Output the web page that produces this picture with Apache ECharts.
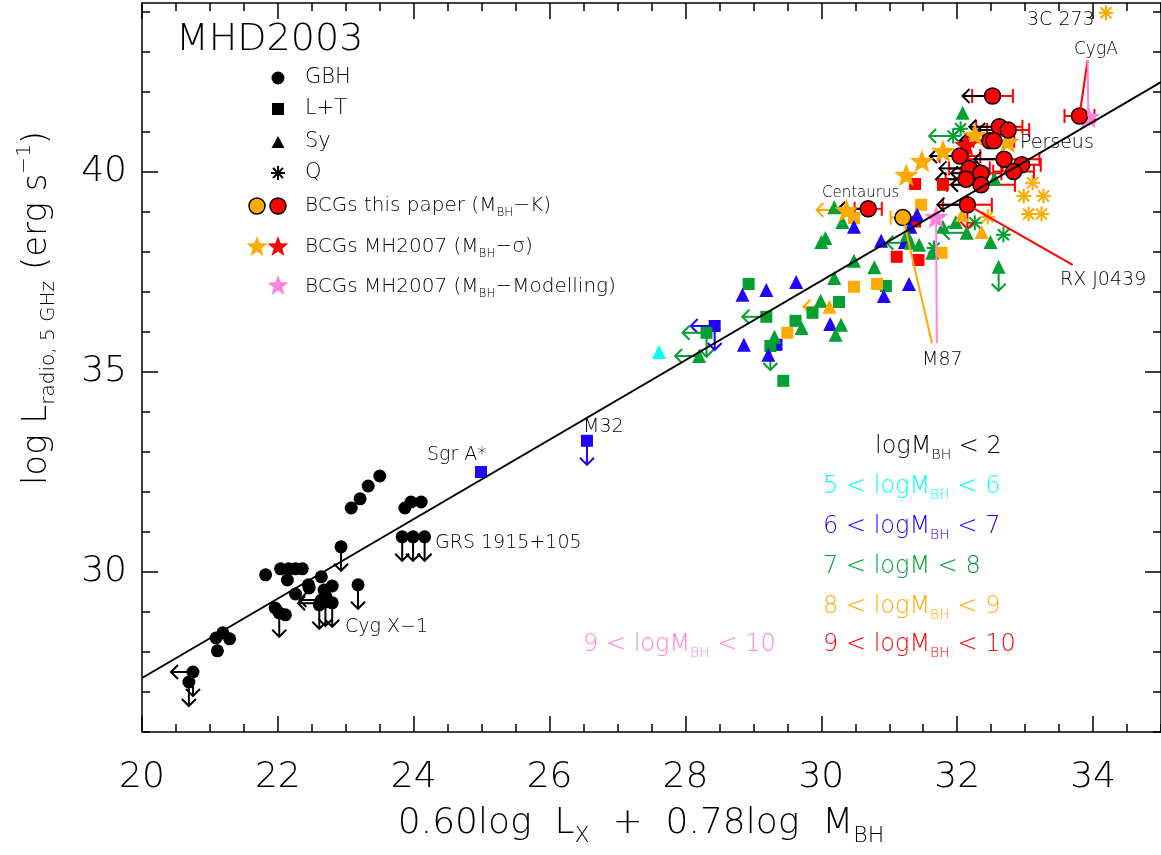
<!DOCTYPE html>
<html><head><meta charset="utf-8">
<script src="https://cdn.jsdelivr.net/npm/echarts@6/dist/echarts.min.js"></script>
<style>html,body{margin:0;padding:0;background:#fff}#c{width:1161px;height:855px}</style>
</head><body><div id="c"></div>
<script>
// ---------------- axis ranges & ticks ----------------
const X_RANGE = [20, 35];
const Y_RANGE = [26, 44.225];
const xMajor = [20, 22, 24, 26, 28, 30, 32, 34];
const xMinor = [20,20.5,21,21.5,22,22.5,23,23.5,24,24.5,25,25.5,26,26.5,27,27.5,28,28.5,29,29.5,30,30.5,31,31.5,32,32.5,33,33.5,34,34.5,35];
const yMajor = [30, 35, 40];
const yMinor = [26,27,28,29,30,31,32,33,34,35,36,37,38,39,40,41,42,43,44];

// ---------------- data (x, y, limit flags: 'l' left arrow, 'd' down arrow) ----------------
const gbhBlack = [
  [20.75,27.50,'dl'],[20.69,27.25,'d'],[21.11,28.03,''],[21.09,28.35,''],[21.19,28.48,''],[21.29,28.33,''],
  [21.82,29.93,''],[22.04,30.08,''],[22.16,30.08,''],[22.26,30.08,''],[22.36,30.08,''],[22.14,29.80,''],
  [21.96,29.10,''],[22.02,28.98,'d'],[22.11,28.93,''],[22.26,29.45,''],[22.45,29.68,''],[22.46,29.60,''],
  [22.64,29.88,''],[22.68,29.55,''],[22.80,29.65,''],[22.71,29.38,''],[22.64,29.30,'l'],[22.62,29.22,'l'],
  [22.61,29.18,'d'],[22.70,29.25,'d'],[22.80,29.23,'d'],[22.93,30.63,'d'],[23.18,29.68,'d'],
  [23.08,31.60,''],[23.21,31.83,''],[23.33,32.15,''],[23.50,32.40,''],
  [23.87,31.60,''],[23.96,31.75,''],[24.11,31.75,''],
  [23.83,30.88,'d'],[23.99,30.88,'d'],[24.16,30.88,'d']
];
const squaresBlue = [[24.99,32.50,''],[26.55,33.28,'d'],[28.43,36.15,'dl'],[29.34,35.68,'']];
const squaresGreen = [[28.31,35.98,'dl'],[28.93,37.20,''],[29.19,36.38,'l'],[29.62,36.28,''],[29.87,36.48,''],
  [30.26,36.75,''],[29.25,35.65,'d'],[29.44,34.78,''],[30.95,37.15,'']];
const squaresOrange = [[29.50,35.98,''],[30.48,37.13,''],[30.82,37.20,''],[30.48,38.85,''],[31.47,39.18,''],[31.77,37.98,'']];
const squaresRed = [[31.38,39.70,''],[31.79,39.68,''],[31.11,37.88,''],[31.43,37.80,''],[31.38,38.76,'']];
const trianglesCyan = [[27.61,35.50,'']];
const trianglesBlue = [[28.86,35.68,''],[28.84,36.93,''],[29.19,37.05,''],[29.63,37.25,''],[29.22,35.43,''],
  [30.13,36.20,''],[30.92,36.90,''],[31.29,37.20,''],[30.88,38.28,''],[30.48,38.63,''],[31.31,38.63,''],
  [31.23,38.25,''],[31.41,38.93,'']];
const trianglesGreen = [[28.20,35.40,'l'],[29.99,36.78,''],[29.71,36.10,''],[30.29,36.18,''],[30.21,35.93,''],
  [29.31,35.88,''],[30.00,38.25,''],[30.06,38.35,''],[30.48,37.78,''],[30.78,37.62,''],[30.19,37.35,''],
  [30.19,39.12,''],[30.31,38.75,''],[31.26,38.43,''],[31.44,38.18,''],[31.63,37.98,''],[32.08,41.48,''],
  [32.55,39.83,''],[32.14,38.48,'l'],[31.98,38.75,''],[32.49,38.25,''],[32.61,37.63,'d'],[31.31,38.23,'l'],
  [31.79,38.63,'']];
const trianglesOrange = [[30.12,36.63,'l'],[32.07,38.93,''],[32.36,38.50,'']];
const asterisksGreen = [[32.05,41.08,''],[31.94,40.90,'l'],[32.26,38.73,''],[32.68,38.43,''],[31.66,38.10,'']];
const asterisksOrange = [[33.11,39.73,''],[32.98,39.40,''],[33.27,39.40,''],[33.05,38.95,''],[33.24,38.95,''],
  [32.45,38.88,''],[34.19,43.98,'']];
const starsOrange = [[32.26,40.93,''],[32.74,40.76,''],[31.79,40.53,''],[31.48,40.28,''],[31.25,39.93,''],[30.37,39.05,'l']];
const starsRed = [[32.13,40.68,'']];
const starsPink = [[31.69,38.88,''],[33.93,41.38,'']];
// BCGs this paper: x, y, x-error, flags
const bcgOrange = [[31.20,38.86,0.18,'']];
const bcgRed = [
  [32.52,41.90,0.30,'l'],[32.62,41.13,0.34,'l'],[32.75,41.05,0.31,'l'],[32.48,40.78,0.30,'l'],
  [32.54,40.78,0.30,'l'],[32.04,40.40,0.30,'l'],[32.69,40.32,0.52,'l'],[32.95,40.18,0.28,''],
  [32.83,40.01,0.30,''],[32.18,40.09,0.30,'l'],[32.35,39.97,0.30,'l'],[32.13,39.82,0.30,'l'],
  [32.35,39.68,0.50,'l'],[32.15,39.18,0.36,'dl'],[30.69,39.08,0.20,'l'],[33.80,41.40,0.22,'']
];
// regression line end points
const fitLine = [[20, 27.35], [35, 42.25]];
// pointer lines from labelled objects to their labels
const pointerM87Orange = [[31.20,38.86],[31.63,35.72]];
const pointerM87Pink = [[31.69,38.88],[31.70,35.72]];
const pointerCygARed = [[33.80,41.40],[33.92,42.80]];
const pointerCygAPink = [[33.93,41.38],[33.92,42.80]];
const pointerRXRed = [[32.15,39.18],[33.70,37.68]];

// ---------------- styling ----------------
const FONT = "'DejaVu Sans', sans-serif";
const FW = 200;
const COL = {black:'#000000', cyan:'#00ffff', blue:'#2000ff', green:'#00a032', orange:'#ffaa00', red:'#ff0000', pink:'#ff82dc'};

function flagOf(p){ const f = p[p.length-1]; return typeof f === 'string' ? f : ''; }
function xy(arr){ return arr.map(p => [p[0], p[1]]); }
function arrowData(arr, which){
  return arr.filter(p => flagOf(p).indexOf(which) >= 0)
            .map(p => [p[0], p[1], which === 'l' ? -1 : 0, which === 'd' ? 1 : 0]);
}
function arrowRender(color, len){
  return function(params, api){
    const p = api.coord([api.value(0), api.value(1)]);
    const dx = api.value(2), dy = api.value(3);
    const e = [p[0] + dx*len, p[1] + dy*len];
    const h = 7;
    let a1, a2;
    if (dx !== 0) { a1 = [e[0] - dx*h, e[1] - h]; a2 = [e[0] - dx*h, e[1] + h]; }
    else { a1 = [e[0] - h, e[1] - dy*h]; a2 = [e[0] + h, e[1] - dy*h]; }
    return {type:'group', children:[
      {type:'line', shape:{x1:p[0], y1:p[1], x2:e[0], y2:e[1]}, style:{stroke:color, lineWidth:2}},
      {type:'polyline', shape:{points:[a1, e, a2]}, style:{stroke:color, lineWidth:2, fill:null}}
    ]};
  };
}
function arrows(arr, which, color, len){
  return {type:'custom', data: arrowData(arr, which), renderItem: arrowRender(color, len), silent:true, animation:false, clip:false};
}
function scatter(arr, symbol, size, color, border){
  return {type:'scatter', data: xy(arr), symbol, symbolSize:size, symbolKeepAspect:true, silent:true, animation:false,
    itemStyle: Object.assign({color, opacity:1}, border ? {borderColor:'#000', borderWidth:1.5} : {})};
}
function asterisks(arr, color){
  return {type:'custom', data: xy(arr), silent:true, animation:false, renderItem(params, api){
    const p = api.coord([api.value(0), api.value(1)]);
    const s = 7.5, d = 5.5;
    const seg = (x1,y1,x2,y2) => ({type:'line', shape:{x1:p[0]+x1, y1:p[1]+y1, x2:p[0]+x2, y2:p[1]+y2}, style:{stroke:color, lineWidth:2}});
    return {type:'group', children:[seg(0,-s,0,s), seg(-s,0,s,0), seg(-d,-d,d,d), seg(-d,d,d,-d)]};
  }};
}
function errorbars(arr, color){
  return {type:'custom', data: arr.map(p => [p[0], p[1], p[2]]), silent:true, animation:false, renderItem(params, api){
    const x = api.value(0), y = api.value(1), e = api.value(2);
    const a = api.coord([x - e, y]), b = api.coord([x + e, y]);
    const c = 7;
    return {type:'group', children:[
      {type:'line', shape:{x1:a[0], y1:a[1], x2:b[0], y2:b[1]}, style:{stroke:color, lineWidth:2}},
      {type:'line', shape:{x1:a[0], y1:a[1]-c, x2:a[0], y2:a[1]+c}, style:{stroke:color, lineWidth:2}},
      {type:'line', shape:{x1:b[0], y1:b[1]-c, x2:b[0], y2:b[1]+c}, style:{stroke:color, lineWidth:2}}
    ]};
  }};
}
function lineSeries(pts, color, width){
  return {type:'line', data: pts, symbol:'none', silent:true, animation:false, lineStyle:{color, width}, clip:false};
}
function starPath(){
  let d = '';
  for (let i = 0; i < 10; i++) {
    const r = i % 2 ? 0.42 : 1, a = -Math.PI/2 + i*Math.PI/5;
    d += (i ? 'L' : 'M') + (r*Math.cos(a)).toFixed(4) + ',' + (r*Math.sin(a)).toFixed(4);
  }
  return 'path://' + d + 'Z';
}
function starPts(cx, cy, R){
  const pts = [];
  for (let i = 0; i < 10; i++) {
    const r = i % 2 ? R*0.42 : R, a = -Math.PI/2 + i*Math.PI/5;
    pts.push([cx + r*Math.cos(a), cy + r*Math.sin(a)]);
  }
  return pts;
}
const STAR = starPath();

function xAxisDef(position, ticks, len, labels, line){
  return {type:'value', min:X_RANGE[0], max:X_RANGE[1], position,
    axisLine:{show:line, onZero:false, lineStyle:{color:'#000', width:1.5}},
    axisTick:{show:true, inside:true, length:len, customValues:ticks, lineStyle:{color:'#000', width:1.5}},
    axisLabel: labels ? {show:true, customValues:ticks, margin:28, fontSize:36, fontFamily:FONT, fontWeight:FW, color:'#000'} : {show:false},
    splitLine:{show:false}, minorTick:{show:false}};
}
function yAxisDef(position, ticks, len, labels, line){
  return {type:'value', min:Y_RANGE[0], max:Y_RANGE[1], position,
    axisLine:{show:line, onZero:false, lineStyle:{color:'#000', width:1.5}},
    axisTick:{show:true, inside:true, length:len, customValues:ticks, lineStyle:{color:'#000', width:1.5}},
    axisLabel: labels ? {show:true, customValues:ticks, margin:15, fontSize:36, fontFamily:FONT, fontWeight:FW, color:'#000'} : {show:false},
    splitLine:{show:false}, minorTick:{show:false}};
}

// ---------------- text graphics ----------------
function rich(size, color){
  const s = Math.round(size*0.6), lh = Math.round(size*1.3);
  return {
    n:{fontSize:size, fontFamily:FONT, fontWeight:FW, fill:color, lineHeight:lh},
    sub:{fontSize:s, fontFamily:FONT, fontWeight:FW, fill:color, lineHeight:s, verticalAlign:'bottom'},
    sup:{fontSize:s, fontFamily:FONT, fontWeight:FW, fill:color, lineHeight:s, verticalAlign:'top'}
  };
}
const graphics = [];
function addText(x, y, text, size, color, align, rotation){
  graphics.push({type:'text', x, y, rotation: rotation || 0, silent:true, z:100,
    style:{text, fill:color, fontSize:size, fontFamily:FONT, fontWeight:FW, align: align || 'left', verticalAlign:'middle', rich: rich(size, color)}});
}
// title & legend
addText(176, 40, 'MHD2003', 38, COL.black);
graphics.push({type:'circle', shape:{cx:278, cy:78, r:6.5}, style:{fill:'#000'}, silent:true, z:100});
graphics.push({type:'rect', shape:{x:272, y:103, width:12, height:12}, style:{fill:'#000'}, silent:true, z:100});
graphics.push({type:'polygon', shape:{points:[[278,136],[271.5,148],[284.5,148]]}, style:{fill:'#000'}, silent:true, z:100});
[[0,-7,0,7],[-7,0,7,0],[-5,-5,5,5],[-5,5,5,-5]].forEach(s => graphics.push({type:'line', shape:{x1:278+s[0], y1:173+s[1], x2:278+s[2], y2:173+s[3]}, style:{stroke:'#000', lineWidth:2}, silent:true, z:100}));
graphics.push({type:'circle', shape:{cx:257, cy:206, r:8}, style:{fill:COL.orange, stroke:'#000', lineWidth:1.5}, silent:true, z:100});
graphics.push({type:'circle', shape:{cx:278, cy:206, r:8}, style:{fill:COL.red, stroke:'#000', lineWidth:1.5}, silent:true, z:100});
graphics.push({type:'polygon', shape:{points:starPts(257, 247, 11)}, style:{fill:COL.orange}, silent:true, z:100});
graphics.push({type:'polygon', shape:{points:starPts(278, 247, 11)}, style:{fill:COL.red}, silent:true, z:100});
graphics.push({type:'polygon', shape:{points:starPts(278, 286, 11)}, style:{fill:COL.pink}, silent:true, z:100});
addText(305, 78, 'GBH', 21, COL.black);
addText(305, 109, 'L+T', 21, COL.black);
addText(305, 142, 'Sy', 21, COL.black);
addText(305, 173, 'Q', 21, COL.black);
addText(305, 206, '{n|BCGs this paper (M}{sub|BH}{n|−K)}', 20, COL.black);
addText(305, 247, '{n|BCGs MH2007 (M}{sub|BH}{n|−σ)}', 20, COL.black);
addText(305, 287, '{n|BCGs MH2007 (M}{sub|BH}{n|−Modelling)}', 20, COL.black);
// mass legend
addText(875, 447, '{n|logM}{sub|BH}{n| < 2}', 24, COL.black);
addText(823, 487, '{n|5 < logM}{sub|BH}{n| < 6}', 24, COL.cyan);
addText(823, 527, '{n|6 < logM}{sub|BH}{n| < 7}', 24, COL.blue);
addText(823, 567, '{n|7 < logM < 8}', 24, COL.green);
addText(823, 607, '{n|8 < logM}{sub|BH}{n| < 9}', 24, COL.orange);
addText(823, 645, '{n|9 < logM}{sub|BH}{n| < 10}', 24, COL.red);
addText(583, 645, '{n|9 < logM}{sub|BH}{n| < 10}', 24, COL.pink);
// object labels
addText(427, 455, 'Sgr A*', 19, COL.black);
addText(583, 427, 'M32', 19, COL.black);
addText(435, 543, 'GRS 1915+105', 19, COL.black);
addText(345, 627, 'Cyg X−1', 19, COL.black);
addText(822, 193, 'Centaurus', 15, COL.black);
addText(1020, 143, 'Perseus', 19, COL.black);
addText(1027, 20, '3C 273', 19, COL.black);
addText(1074, 50, 'CygA', 17, COL.black);
addText(922, 360, 'M87', 19, COL.black);
addText(1060, 280, 'RX J0439', 19, COL.black);
// axis titles
addText(641, 824, '{n|0.60log  L}{sub|X}{n|  +  0.78log  M}{sub|BH}', 36, COL.black, 'center');
addText(37, 308, '{n|log L}{sub|radio, 5 GHz}{n| (erg s}{sup|−1}{n|)}', 34, COL.black, 'center', Math.PI/2);

// ---------------- chart ----------------
const series = [
  lineSeries(pointerM87Orange, COL.orange, 2),
  lineSeries(pointerM87Pink, COL.pink, 2),
  lineSeries(pointerCygARed, COL.red, 2),
  lineSeries(pointerCygAPink, COL.pink, 2),
  lineSeries(pointerRXRed, COL.red, 2),
  arrows(gbhBlack, 'l', COL.black, 22),
  arrows(gbhBlack, 'd', COL.black, 24),
  scatter(gbhBlack, 'circle', 13, COL.black),
  arrows(squaresBlue, 'l', COL.blue, 24), arrows(squaresBlue, 'd', COL.blue, 24),
  arrows(squaresGreen, 'l', COL.green, 24), arrows(squaresGreen, 'd', COL.green, 24),
  arrows(trianglesGreen, 'l', COL.green, 24), arrows(trianglesGreen, 'd', COL.green, 24),
  arrows(trianglesOrange, 'l', COL.orange, 26),
  arrows(asterisksGreen, 'l', COL.green, 24),
  scatter(squaresBlue, 'rect', 12, COL.blue),
  scatter(squaresGreen, 'rect', 12, COL.green),
  scatter(squaresOrange, 'rect', 12, COL.orange),
  scatter(squaresRed, 'rect', 12, COL.red),
  scatter(trianglesCyan, 'triangle', 14, COL.cyan),
  scatter(trianglesBlue, 'triangle', 14, COL.blue),
  scatter(trianglesGreen, 'triangle', 14, COL.green),
  scatter(trianglesOrange, 'triangle', 14, COL.orange),
  asterisks(asterisksGreen, COL.green),
  asterisks(asterisksOrange, COL.orange),
  lineSeries(fitLine, COL.black, 2),
  arrows(starsOrange, 'l', COL.orange, 30),
  scatter(starsOrange, STAR, 24, COL.orange),
  scatter(starsRed, STAR, 24, COL.red),
  scatter(starsPink, STAR, 24, COL.pink),
  errorbars(bcgRed, COL.red),
  errorbars(bcgOrange, COL.orange),
  arrows(bcgRed, 'd', COL.red, 24),
  arrows(bcgRed, 'l', COL.black, 30),
  scatter(bcgOrange, 'circle', 16, COL.orange, true),
  scatter(bcgRed, 'circle', 16, COL.red, true)
];

const chart = echarts.init(document.getElementById('c'), null, {renderer:'canvas'});
chart.setOption({
  animation:false,
  backgroundColor:'#ffffff',
  grid:{left:142, right:0, top:3, bottom:123, containLabel:false},
  xAxis:[
    xAxisDef('bottom', xMajor, 16, true, true),
    xAxisDef('bottom', xMinor, 8, false, false),
    xAxisDef('top', xMajor, 16, false, true),
    xAxisDef('top', xMinor, 8, false, false)
  ],
  yAxis:[
    yAxisDef('left', yMajor, 16, true, true),
    yAxisDef('left', yMinor, 8, false, false),
    yAxisDef('right', yMajor, 16, false, true),
    yAxisDef('right', yMinor, 8, false, false)
  ],
  series,
  graphic: graphics
});
</script>
</body></html>
